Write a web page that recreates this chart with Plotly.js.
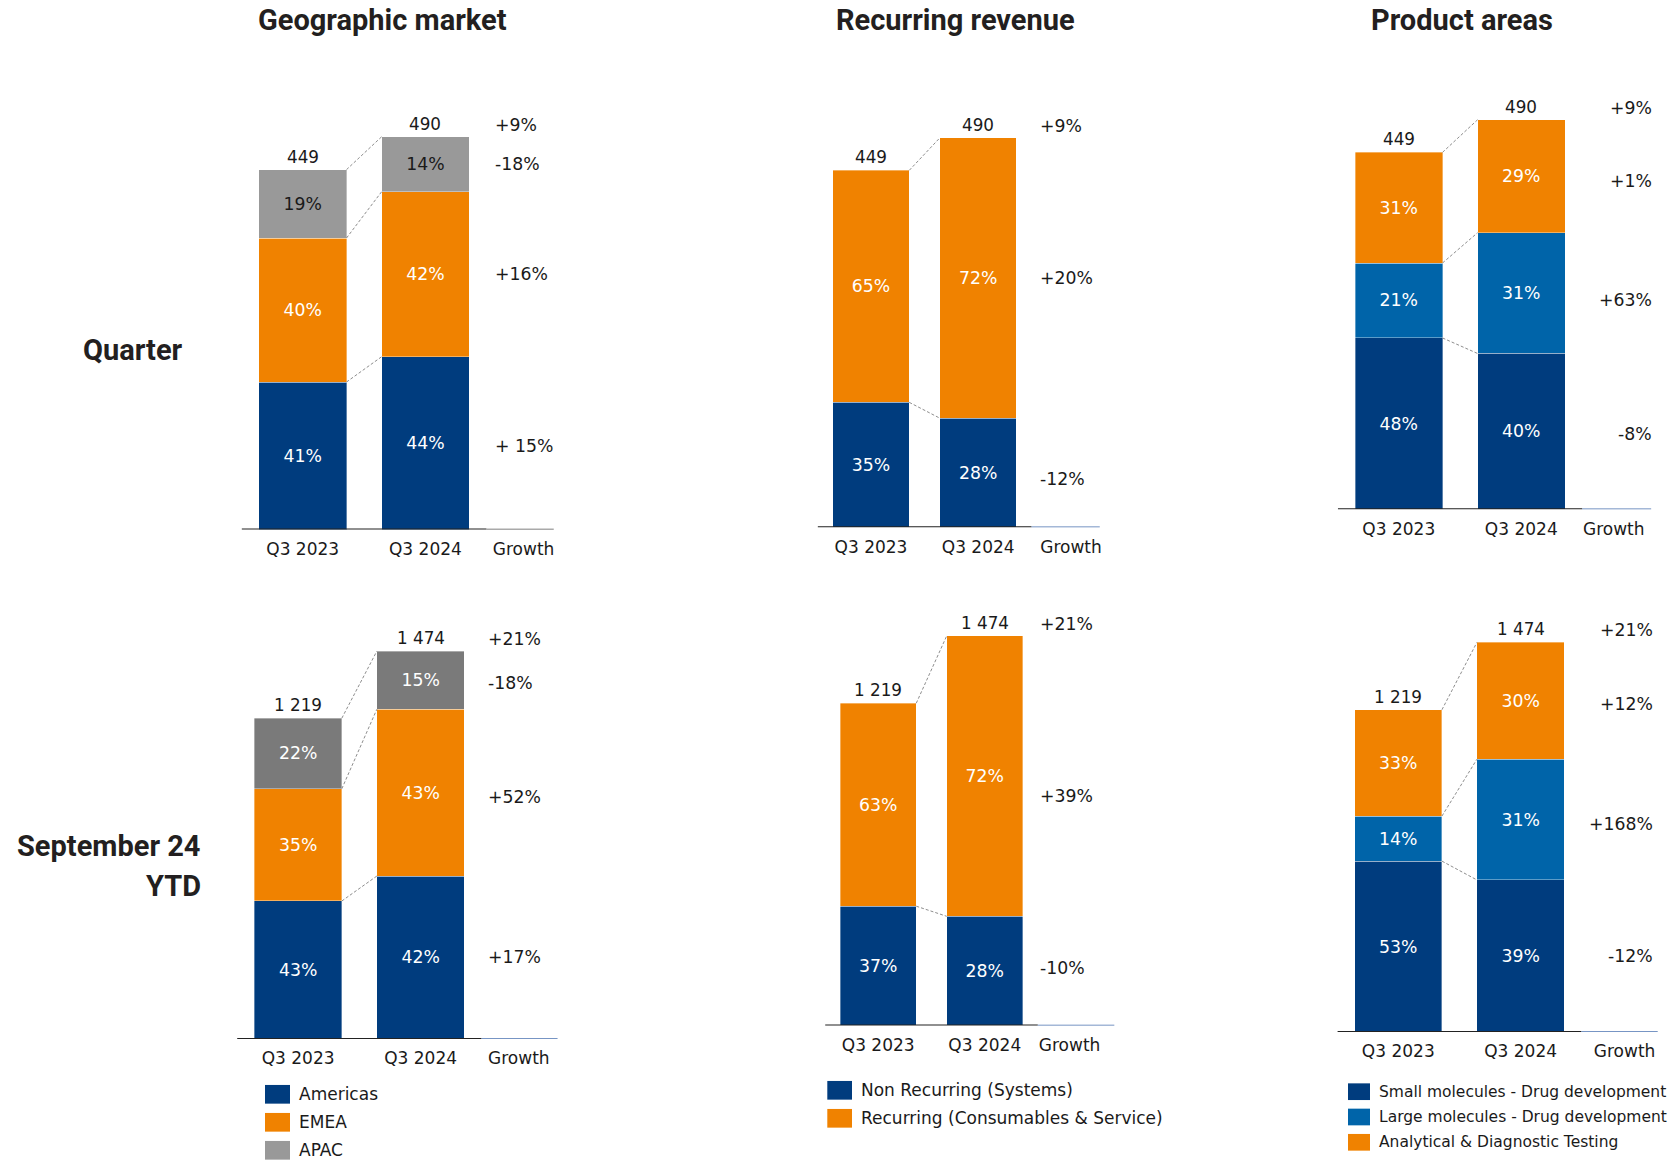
<!DOCTYPE html>
<html><head><meta charset="utf-8">
<script src="https://cdn.plot.ly/plotly-3.0.1.min.js"></script>
<style>html,body{margin:0;padding:0;background:#fff}#chart{width:1671px;height:1162px}</style>
</head><body><div id="chart"></div>
<script>
// ---------------- data ----------------
const periods = ['Q3 2023', 'Q3 2024'];
const growthLabel = 'Growth';
const rowLabelQuarter = 'Quarter';
const rowLabelYTD = ['September 24', 'YTD'];
const panelTitles = ['Geographic market', 'Recurring revenue', 'Product areas'];

const totalsQuarter = [449, 490];
const totalsYTD = [1219, 1474];
const totalTextQuarter = ['449', '490'];
const totalTextYTD = ['1 219', '1 474'];
const totalGrowthQuarter = '+9%';
const totalGrowthYTD = '+21%';

const geoSeries = ['Americas', 'EMEA', 'APAC'];
const geoQuarterAmericas = [41, 44];
const geoQuarterEMEA = [40, 42];
const geoQuarterAPAC = [19, 14];
const geoQuarterGrowth = ['+ 15%', '+16%', '-18%'];
const geoYTDAmericas = [43, 42];
const geoYTDEMEA = [35, 43];
const geoYTDAPAC = [22, 15];
const geoYTDGrowth = ['+17%', '+52%', '-18%'];

const recSeries = ['Non Recurring (Systems)', 'Recurring (Consumables & Service)'];
const recQuarterNonRecurring = [35, 28];
const recQuarterRecurring = [65, 72];
const recQuarterGrowth = ['-12%', '+20%'];
const recYTDNonRecurring = [37, 28];
const recYTDRecurring = [63, 72];
const recYTDGrowth = ['-10%', '+39%'];

const prodSeries = ['Small molecules - Drug development', 'Large molecules - Drug development', 'Analytical & Diagnostic Testing'];
const prodQuarterSmall = [48, 40];
const prodQuarterLarge = [21, 31];
const prodQuarterAnalytical = [31, 29];
const prodQuarterGrowth = ['-8%', '+63%', '+1%'];
const prodYTDSmall = [53, 39];
const prodYTDLarge = [14, 31];
const prodYTDAnalytical = [33, 30];
const prodYTDGrowth = ['-12%', '+168%', '+12%'];

// ---------------- styles ----------------
const W = 1671, H = 1162;
const NAVY = '#003c7e', ORANGE = '#f08200', LBLUE = '#0064a9', GRAY_Q = '#999999', GRAY_Y = '#7a7a7a';
const TXT = '#1a1a1a', WHITE = '#ffffff';
const FONT = 'DejaVu Sans, Verdana, sans-serif';
const TITLE_FONT = 'Roboto, Liberation Sans Narrow, DejaVu Sans Condensed, sans-serif';
const TITLE_SIZE = 29;
const LABEL_SIZE = 17.3;
const BAR_W = 0.714;
const px = x => x / W;
const py = y => 1 - y / H;

const panels = [
  {totals: totalsQuarter, totalText: totalTextQuarter, totalGrowth: totalGrowthQuarter,
   shares: [geoQuarterAmericas, geoQuarterEMEA, geoQuarterAPAC], growth: geoQuarterGrowth, names: geoSeries,
   colors: [NAVY, ORANGE, GRAY_Q], textColors: [WHITE, WHITE, TXT], gShift: [-3, 0, 0],
   c1: 302.7, sp: 122.7, base: 529.6, ppu: 0.8017, top: 60, xhi: 2.2,
   gTick: 1.80, gX: 1.55, gAnchor: 'left', lineEnd: 2.046, lineColor: '#555555'},
  {totals: totalsQuarter, totalText: totalTextQuarter, totalGrowth: totalGrowthQuarter,
   shares: [recQuarterNonRecurring, recQuarterRecurring], growth: recQuarterGrowth, names: recSeries,
   colors: [NAVY, ORANGE], textColors: [WHITE, WHITE], gShift: [-6, 0],
   c1: 871, sp: 107.2, base: 527.3, ppu: 0.795, top: 60, xhi: 2.2,
   gTick: 1.866, gX: 1.56, gAnchor: 'left', lineEnd: 2.134, lineColor: '#4a72b0'},
  {totals: totalsQuarter, totalText: totalTextQuarter, totalGrowth: totalGrowthQuarter,
   shares: [prodQuarterSmall, prodQuarterLarge, prodQuarterAnalytical], growth: prodQuarterGrowth, names: prodSeries,
   colors: [NAVY, LBLUE, ORANGE], textColors: [WHITE, WHITE, WHITE], gShift: [-3, -7, -5],
   c1: 1398.8, sp: 122.5, base: 509.3, ppu: 0.795, top: 60, xhi: 2.2,
   gTick: 1.755, gX: 2.085, gAnchor: 'right', lineEnd: 2.06, lineColor: '#4a72b0'},
  {totals: totalsYTD, totalText: totalTextYTD, totalGrowth: totalGrowthYTD,
   shares: [geoYTDAmericas, geoYTDEMEA, geoYTDAPAC], growth: geoYTDGrowth, names: geoSeries,
   colors: [NAVY, ORANGE, GRAY_Y], textColors: [WHITE, WHITE, WHITE], gShift: [0, -4, -3],
   c1: 298.1, sp: 122.5, base: 1038.9, ppu: 0.2631, top: 575, xhi: 2.2,
   gTick: 1.802, gX: 1.535, gAnchor: 'left', lineEnd: 2.118, lineColor: '#4a72b0'},
  {totals: totalsYTD, totalText: totalTextYTD, totalGrowth: totalGrowthYTD,
   shares: [recYTDNonRecurring, recYTDRecurring], growth: recYTDGrowth, names: recSeries,
   colors: [NAVY, ORANGE], textColors: [WHITE, WHITE], gShift: [3, -20],
   c1: 878.2, sp: 106.6, base: 1025.4, ppu: 0.2643, top: 575, xhi: 2.25,
   gTick: 1.795, gX: 1.5, gAnchor: 'left', lineEnd: 2.215, lineColor: '#4a72b0'},
  {totals: totalsYTD, totalText: totalTextYTD, totalGrowth: totalGrowthYTD,
   shares: [prodYTDSmall, prodYTDLarge, prodYTDAnalytical], growth: prodYTDGrowth, names: prodSeries,
   colors: [NAVY, LBLUE, ORANGE], textColors: [WHITE, WHITE, WHITE], gShift: [0, -4, -3],
   c1: 1398.3, sp: 122.3, base: 1031.9, ppu: 0.2643, top: 575, xhi: 2.2,
   gTick: 1.85, gX: 2.1, gAnchor: 'right', lineEnd: 2.121, lineColor: '#4a72b0'}
];

const traces = [], annotations = [], shapes = [];
const layout = {
  width: W, height: H, autosize: false,
  margin: {l: 0, r: 0, t: 0, b: 0},
  paper_bgcolor: '#ffffff', plot_bgcolor: 'rgba(0,0,0,0)',
  barmode: 'stack', showlegend: false, hovermode: false,
  font: {family: FONT, color: TXT}
};

panels.forEach((p, i) => {
  const n = i + 1;
  const xa = n === 1 ? 'x' : 'x' + n;
  const ya = n === 1 ? 'y' : 'y' + n;
  const xKey = n === 1 ? 'xaxis' : 'xaxis' + n;
  const yKey = n === 1 ? 'yaxis' : 'yaxis' + n;
  const ymax = (p.base - p.top) / p.ppu;

  layout[xKey] = {
    domain: [px(p.c1 - 0.5 * p.sp), px(p.c1 + p.xhi * p.sp)],
    range: [-0.5, p.xhi], anchor: ya, fixedrange: true,
    showgrid: false, zeroline: false, showline: false,
    tickmode: 'array', tickvals: [0, 1, p.gTick], ticktext: [...periods, growthLabel],
    ticks: 'outside', ticklen: 4, tickcolor: 'rgba(0,0,0,0)',
    tickfont: {family: FONT, size: 17, color: TXT}
  };
  layout[yKey] = {
    domain: [py(p.base), py(p.top)], range: [0, ymax], anchor: xa, fixedrange: true,
    showgrid: false, zeroline: false, showline: false, showticklabels: false, ticks: ''
  };

  // segment values
  const seg = p.shares.map(s => p.totals.map((t, j) => t * s[j] / 100));
  const cum = [[], []];
  [0, 1].forEach(j => {
    let c = 0;
    seg.forEach((sv, k) => { c += sv[j]; cum[j][k] = c; });
  });

  seg.forEach((sv, k) => {
    traces.push({
      type: 'bar', x: [0, 1], y: sv, xaxis: xa, yaxis: ya, width: BAR_W,
      name: p.names[k],
      marker: {color: p.colors[k], line: {color: 'rgba(255,255,255,0.45)', width: 0.8}},
      text: p.shares[k].map(s => s + '%'), textposition: 'inside', insidetextanchor: 'middle',
      textangle: 0, constraintext: 'none',
      textfont: {family: FONT, size: LABEL_SIZE, color: p.textColors[k]},
      hoverinfo: 'skip', cliponaxis: false
    });
  });

  // dashed connectors
  const cx = [], cy = [];
  seg.forEach((sv, k) => {
    cx.push(0 + BAR_W / 2, 1 - BAR_W / 2, null);
    cy.push(cum[0][k], cum[1][k], null);
  });
  traces.push({
    type: 'scatter', mode: 'lines', x: cx, y: cy, xaxis: xa, yaxis: ya,
    line: {color: '#808080', width: 0.9, dash: '3px,2px'}, hoverinfo: 'skip', cliponaxis: false
  });

  // totals
  [0, 1].forEach(j => {
    annotations.push({xref: xa, yref: ya, x: j, y: p.totals[j], text: p.totalText[j],
      showarrow: false, yshift: 13, xanchor: 'center', yanchor: 'middle',
      font: {family: FONT, size: 16.8, color: TXT}});
  });
  // growth column
  annotations.push({xref: xa, yref: ya, x: p.gX, y: p.totals[1], text: p.totalGrowth,
    showarrow: false, yshift: 12, xanchor: p.gAnchor, yanchor: 'middle',
    font: {family: FONT, size: LABEL_SIZE, color: TXT}});
  seg.forEach((sv, k) => {
    annotations.push({xref: xa, yref: ya, x: p.gX, y: cum[1][k] - sv[1] / 2, text: p.growth[k],
      showarrow: false, xanchor: p.gAnchor, yanchor: 'middle', yshift: p.gShift[k],
      font: {family: FONT, size: LABEL_SIZE, color: TXT}});
  });

  // baseline
  shapes.push({type: 'line', xref: xa, yref: ya, x0: -0.497, x1: 1.497, y0: 0, y1: 0,
    line: {color: '#222222', width: 2}});
  shapes.push({type: 'line', xref: xa, yref: ya, x0: 1.497, x1: p.lineEnd, y0: 0, y1: 0,
    line: {color: p.lineColor, width: 1.5}});
});

// titles
const titleX = [382.1, 955.8, 1462.2];
panelTitles.forEach((t, i) => {
  annotations.push({xref: 'paper', yref: 'paper', x: px(titleX[i]), y: py(20), text: '<b>' + t + '</b>',
    showarrow: false, xanchor: 'center', yanchor: 'middle',
    font: {family: TITLE_FONT, size: TITLE_SIZE, color: '#231f20'}});
});
annotations.push({xref: 'paper', yref: 'paper', x: px(133), y: py(350), text: '<b>' + rowLabelQuarter + '</b>',
  showarrow: false, xanchor: 'center', yanchor: 'middle', font: {family: TITLE_FONT, size: TITLE_SIZE, color: '#231f20'}});
rowLabelYTD.forEach((t, k) => {
  annotations.push({xref: 'paper', yref: 'paper', x: px(203), y: py(846 + k * 39.5), text: '<b>' + t + '</b>',
    showarrow: false, xanchor: 'right', yanchor: 'middle', font: {family: TITLE_FONT, size: TITLE_SIZE, color: '#231f20'}});
});

// legends
const legends = [
  {names: geoSeries, colors: [NAVY, ORANGE, GRAY_Q], x0: 265, x1: 290, tx: 296.7, y0: 1094.3, dy: 28, h: 18.7, size: 17},
  {names: recSeries, colors: [NAVY, ORANGE], x0: 827.3, x1: 852, tx: 859.3, y0: 1090.3, dy: 28, h: 18.7, size: 17},
  {names: prodSeries, colors: [NAVY, LBLUE, ORANGE], x0: 1348, x1: 1370, tx: 1377.3, y0: 1091.7, dy: 25.3, h: 16.7, size: 15.5}
];
legends.forEach(L => {
  L.names.forEach((nm, k) => {
    const yc = L.y0 + k * L.dy;
    shapes.push({type: 'rect', xref: 'paper', yref: 'paper', x0: px(L.x0), x1: px(L.x1),
      y0: py(yc + L.h / 2), y1: py(yc - L.h / 2), fillcolor: L.colors[k], line: {width: 0}});
    annotations.push({xref: 'paper', yref: 'paper', x: px(L.tx), y: py(yc), text: nm,
      showarrow: false, xanchor: 'left', yanchor: 'middle', font: {family: FONT, size: L.size, color: TXT}});
  });
});

layout.annotations = annotations;
layout.shapes = shapes;
Plotly.newPlot('chart', traces, layout, {staticPlot: true, displayModeBar: false});
</script>
</body></html>
